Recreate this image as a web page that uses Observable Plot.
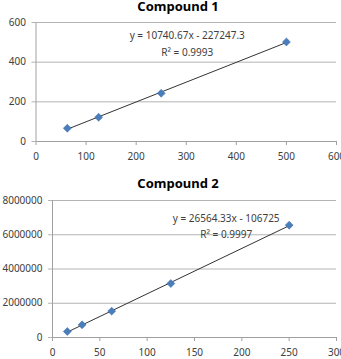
<!DOCTYPE html>
<html><head><meta charset="utf-8">
<script src="https://cdn.jsdelivr.net/npm/d3@7"></script>
<script src="https://cdn.jsdelivr.net/npm/@observablehq/plot@0.6"></script>
<style>
body{margin:0;background:#fff;width:341px;height:359px;overflow:hidden;position:relative;font-family:"Noto Sans",sans-serif;}
.t{position:absolute;left:178px;transform:translateX(-50%);white-space:nowrap;font-weight:bold;font-size:13px;color:#000;line-height:1.15;z-index:2;}
.c{position:absolute;left:0;z-index:1;}
</style></head><body>
<div class="t" style="top:-1px">Compound 1</div>
<div class="t" style="top:176px">Compound 2</div>
<div class="c" id="c1" style="top:0"></div>
<div class="c" id="c2" style="top:175px"></div>
<script>
const conc1 = [62.5, 125, 250, 500];
const area1 = [67, 122.5, 243, 502];
const eq1 = "y = 10740.67x - 227247.3";
const r1 = "R² = 0.9993";
const xTicks1 = [0, 100, 200, 300, 400, 500, 600];
const yTicks1 = [0, 200, 400, 600];

const conc2 = [15.625, 31.25, 62.5, 125, 250];
const area2 = [350000, 740000, 1540000, 3150000, 6560000];
const eq2 = "y = 26564.33x - 106725";
const r2 = "R² = 0.9997";
const xTicks2 = [0, 50, 100, 150, 200, 250, 300];
const yTicks2 = [0, 2000000, 4000000, 6000000, 8000000];

const font = '"Noto Sans",sans-serif';
const blue = "#4a7ebb";
const grid = "#b4b4b4";
const txt = "#404040";

function chart(conc, area, xTicks, yTicks, eq, r2txt, opt) {
  const data = conc.map((c, i) => ({x: c, y: area[i]}));
  return Plot.plot({
    width: 341, height: opt.height,
    marginLeft: opt.ml, marginRight: 5, marginTop: opt.mt, marginBottom: opt.mb,
    style: {fontFamily: font, fontSize: "10px", color: txt, background: "transparent"},
    x: {domain: [xTicks[0], xTicks[xTicks.length-1]], label: null},
    y: {domain: [yTicks[0], yTicks[yTicks.length-1]], label: null},
    marks: [
      Plot.gridY(yTicks, {stroke: grid, strokeOpacity: 1}),
      Plot.ruleX([xTicks[0]], {stroke: "#a0a0a0"}),
      Plot.ruleY([yTicks[0]], {stroke: "#a0a0a0"}),
      Plot.axisX({ticks: xTicks, tickSize: 4, tickPadding: 7, stroke: "#a0a0a0", tickFormat: d => String(d), label: null}),
      Plot.axisY({ticks: yTicks, tickSize: 4, tickPadding: 6, stroke: grid, tickFormat: d => String(d), label: null}),
      Plot.linearRegressionY(data, {x: "x", y: "y", ci: 0, stroke: "#333", strokeWidth: 1}),
      Plot.dot(data, {x: "x", y: "y", symbol: "diamond2", r: 3.6, fill: blue, stroke: "#3a6aa8", strokeWidth: 0.5}),
      Plot.text([eq], {x: opt.tx, y: opt.ty1, text: d => d, fill: txt, fontSize: 10}),
      Plot.text([r2txt], {x: opt.tx, y: opt.ty2, text: d => d, fill: txt, fontSize: 10})
    ]
  });
}
document.getElementById("c1").append(chart(conc1, area1, xTicks1, yTicks1, eq1, r1,
  {height: 175, ml: 35.5, mt: 22, mb: 34, tx: 302, ty1: 531, ty2: 445}));
document.getElementById("c2").append(chart(conc2, area2, xTicks2, yTicks2, eq2, r2,
  {height: 184, ml: 52, mt: 25, mb: 22, tx: 183.5, ty1: 6950000, ty2: 5970000}));
</script>
</body></html>
